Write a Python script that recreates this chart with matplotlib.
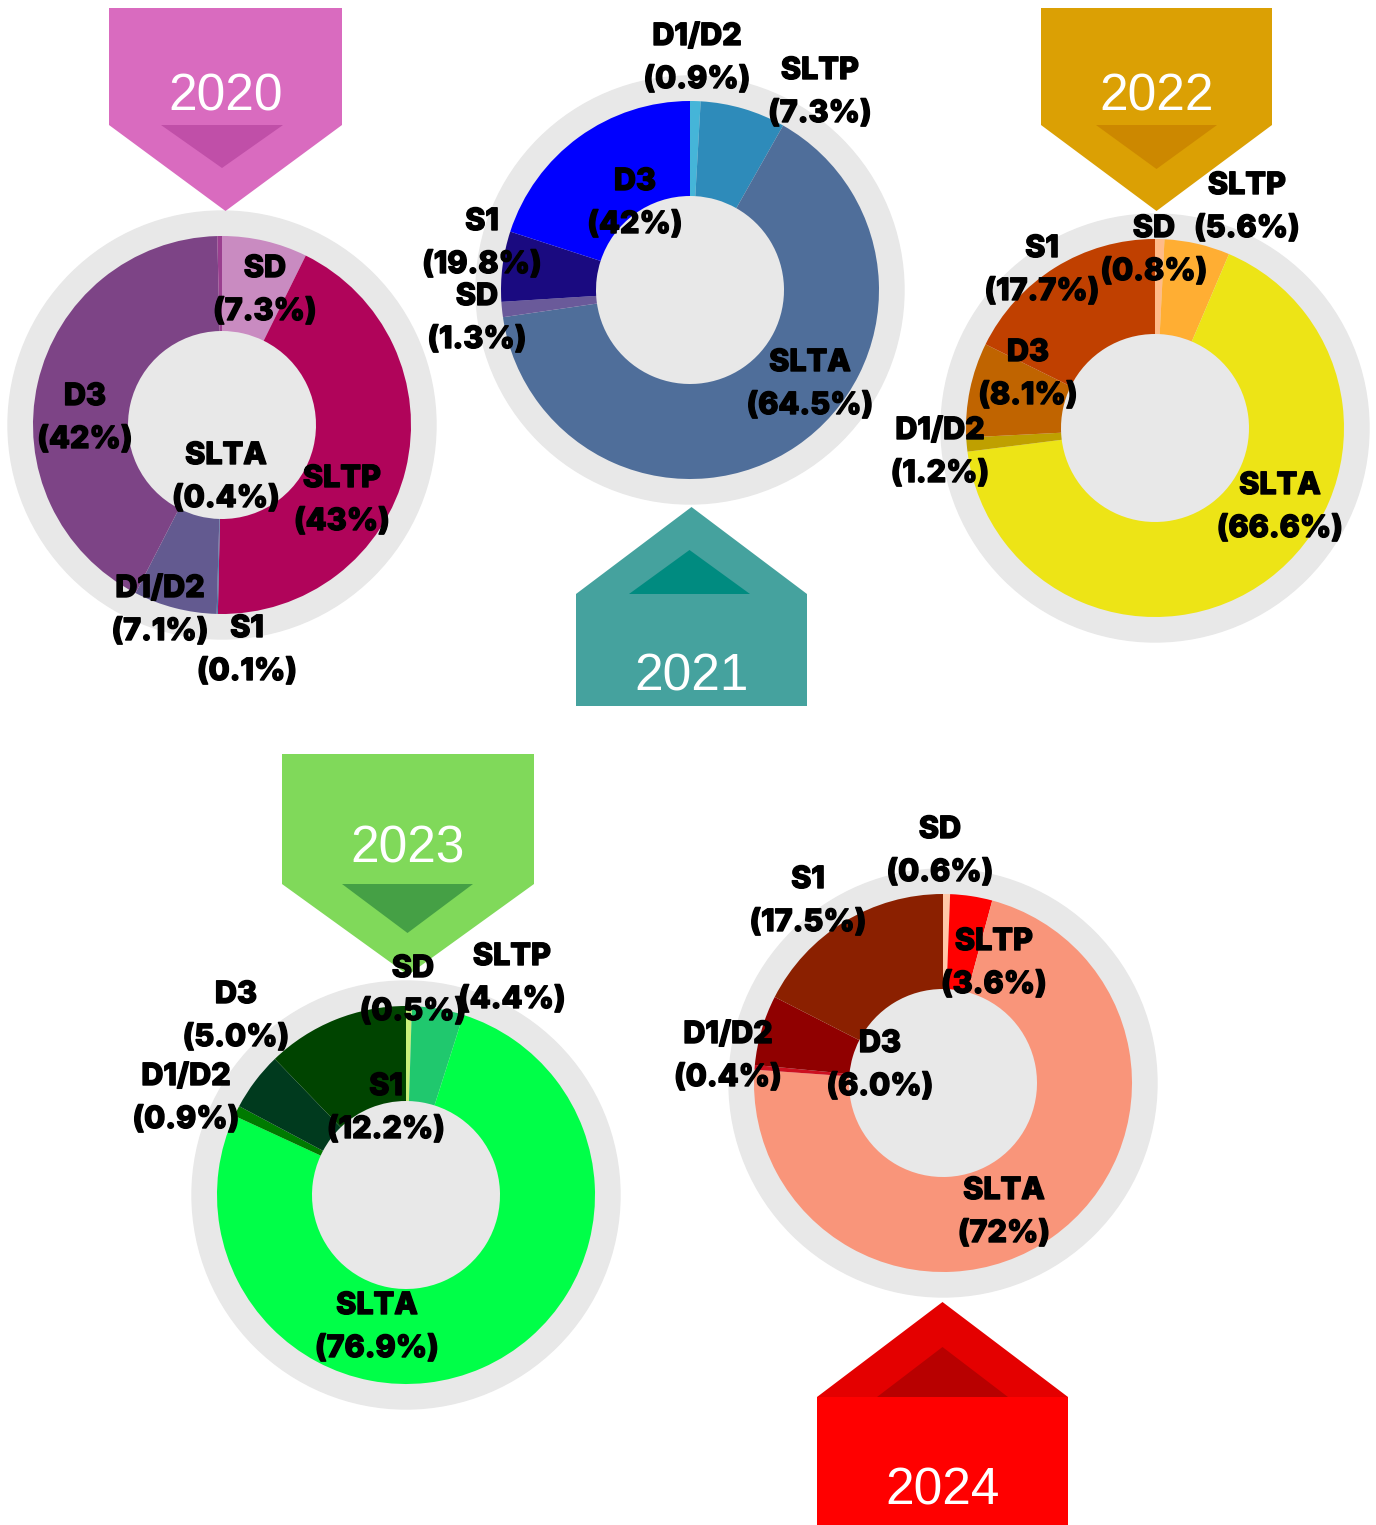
import matplotlib.pyplot as plt
import matplotlib.patheffects as pe
from matplotlib.patches import Polygon, Circle

W, H = 1376, 1525

# order of the wedges, clockwise from the top
anos = ["2020", "2021", "2022", "2023", "2024"]

cat_2020 = ["SD", "SLTP", "S1", "D1/D2", "D3", "SLTA"]
val_2020 = [7.3, 43.0, 0.1, 7.1, 42.0, 0.4]
cor_2020 = ["#c98bc1", "#b0045a", "#4a7aa8", "#635a90", "#7d4486", "#9a3f8f"]

cat_2021 = ["D1/D2", "SLTP", "SLTA", "SD", "S1", "D3"]
val_2021 = [0.9, 7.3, 64.5, 1.3, 6.0, 20.0]
rot_2021 = ["0.9%", "7.3%", "64.5%", "1.3%", "19.8%", "42%"]
cor_2021 = ["#45b5d8", "#2e8bba", "#4f6e9a", "#6a5a9a", "#1a0a80", "#0000ff"]

cat_2022 = ["SD", "SLTP", "SLTA", "D1/D2", "D3", "S1"]
val_2022 = [0.8, 5.6, 66.6, 1.2, 8.1, 17.7]
cor_2022 = ["#ffbb88", "#ffae33", "#ede416", "#bfa000", "#c06400", "#c04000"]

cat_2023 = ["SD", "SLTP", "SLTA", "D1/D2", "D3", "S1"]
val_2023 = [0.5, 4.4, 76.9, 0.9, 5.0, 12.2]
cor_2023 = ["#c8f07a", "#20c86e", "#00ff48", "#007a00", "#003a1e", "#004400"]

cat_2024 = ["SD", "SLTP", "SLTA", "D1/D2", "D3", "S1"]
val_2024 = [0.6, 3.6, 72.0, 0.4, 6.0, 17.5]
cor_2024 = ["#ffc8a8", "#ff0000", "#f9957a", "#cc1020", "#900000", "#8b2000"]


def Y(y):
    return H - y


def fmt(v):
    return f"{v:g}%"


fig = plt.figure(figsize=(W / 100, H / 100), dpi=100)
ax = fig.add_axes([0, 0, 1, 1])
ax.set_xlim(0, W)
ax.set_ylim(0, H)
ax.axis("off")

cinza = "#e8e8e8"
fonte_rot = dict(family=["Inter", "DejaVu Sans"], fontweight="heavy", fontsize=22, color="black",
                 ha="center", va="center", zorder=10,
                 path_effects=[pe.withStroke(linewidth=1.0, foreground="black")])


def rosca(cx, cy, valores, cores):
    ax.add_patch(Circle((cx, Y(cy)), 214, color=cinza, zorder=1))
    w, _ = ax.pie(valores, colors=cores, center=(cx, Y(cy)), radius=189, startangle=90,
                  counterclock=False, frame=True,
                  wedgeprops=dict(width=95, linewidth=0))
    for p in w:
        p.set_zorder(2)


def rotulo(x, y, nome, pct):
    ax.text(x, Y(y - 21), nome, **fonte_rot)
    ax.text(x, Y(y + 22), "(" + pct + ")", **fonte_rot)


def ano_txt(x, y, ano):
    ax.text(x, Y(y + 4), ano, family="Liberation Sans", fontsize=37, color="white",
            ha="center", va="center", zorder=5)


def seta_baixo(x0, x1, ytop, ybase, ypt, cor, cor_in, in_x0, in_x1, in_pt, ano, ytxt):
    xm = (x0 + x1) / 2
    ax.add_patch(Polygon([(x0, Y(ytop)), (x1, Y(ytop)), (x1, Y(ybase)), (xm, Y(ypt)),
                          (x0, Y(ybase))], closed=True, color=cor, lw=0, zorder=3))
    ax.add_patch(Polygon([(in_x0, Y(ybase)), (in_x1, Y(ybase)), ((in_x0 + in_x1) / 2, Y(in_pt))],
                         closed=True, color=cor_in, lw=0, zorder=4))
    ano_txt(xm, ytxt, ano)


def seta_cima(x0, x1, ybot, ybase, ypt, cor, cor_tri, cor_in, in_x0, in_x1, in_pt, ano, ytxt):
    xm = (x0 + x1) / 2
    ax.add_patch(Polygon([(x0, Y(ybot)), (x1, Y(ybot)), (x1, Y(ybase)), (x0, Y(ybase))],
                         closed=True, color=cor, lw=0, zorder=3))
    ax.add_patch(Polygon([(x0, Y(ybase)), (x1, Y(ybase)), (xm, Y(ypt))],
                         closed=True, color=cor_tri, lw=0, zorder=3))
    ax.add_patch(Polygon([(in_x0, Y(ybase)), (in_x1, Y(ybase)), ((in_x0 + in_x1) / 2, Y(in_pt))],
                         closed=True, color=cor_in, lw=0, zorder=4))
    ano_txt(xm, ytxt, ano)


# 2020
rosca(222, 425, val_2020, cor_2020)
seta_baixo(109, 342, 8, 125, 211, "#d96bbf", "#c04fa8", 161, 283, 168, anos[0], 93)
pos_2020 = [(265, 290), (342, 500), (247, 650), (160, 610), (85, 418), (226, 477)]
for (x, y), n, v in zip(pos_2020, cat_2020, val_2020):
    rotulo(x, y, n, fmt(v))

# 2021
rosca(690, 290, val_2021, cor_2021)
seta_cima(576, 807, 706, 594, 507, "#45a29e", "#45a29e", "#008b80", 629, 750, 550, anos[1], 673)
pos_2021 = [(697, 58), (820, 92), (810, 384), (477, 318), (482, 243), (635, 203)]
for (x, y), n, r in zip(pos_2021, cat_2021, rot_2021):
    rotulo(x, y, n, r)

# 2022
rosca(1155, 428, val_2022, cor_2022)
seta_baixo(1041, 1272, 8, 125, 211, "#dba004", "#cc8800", 1096, 1217, 169, anos[2], 93)
pos_2022 = [(1154, 250), (1247, 207), (1280, 507), (940, 452), (1028, 374), (1042, 270)]
for (x, y), n, v in zip(pos_2022, cat_2022, val_2022):
    rotulo(x, y, n, fmt(v))

# 2023
rosca(406, 1195, val_2023, cor_2023)
seta_baixo(282, 534, 754, 884, 975, "#80d95a", "#45a045", 342, 473, 933, anos[3], 845)
pos_2023 = [(413, 990), (512, 978), (377, 1327), (186, 1098), (236, 1016), (386, 1108)]
for (x, y), n, v in zip(pos_2023, cat_2023, val_2023):
    rotulo(x, y, n, f"{v:.1f}%")

# 2024
rosca(943, 1083, val_2024, cor_2024)
seta_cima(817, 1068, 1525, 1397, 1302, "#ff0000", "#e40000", "#b80000", 877, 1008, 1347, anos[4], 1487)
pos_2024 = [(940, 851), (994, 963), (1004, 1212), (728, 1056), (880, 1065), (808, 901)]
for (x, y), n, v in zip(pos_2024, cat_2024, val_2024):
    rotulo(x, y, n, fmt(v) if v != 6.0 else "6.0%")

ax.set_xlim(0, W)
ax.set_ylim(0, H)
ax.set_aspect("auto")
ax.axis("off")

fig.savefig("out.png", dpi=100)
